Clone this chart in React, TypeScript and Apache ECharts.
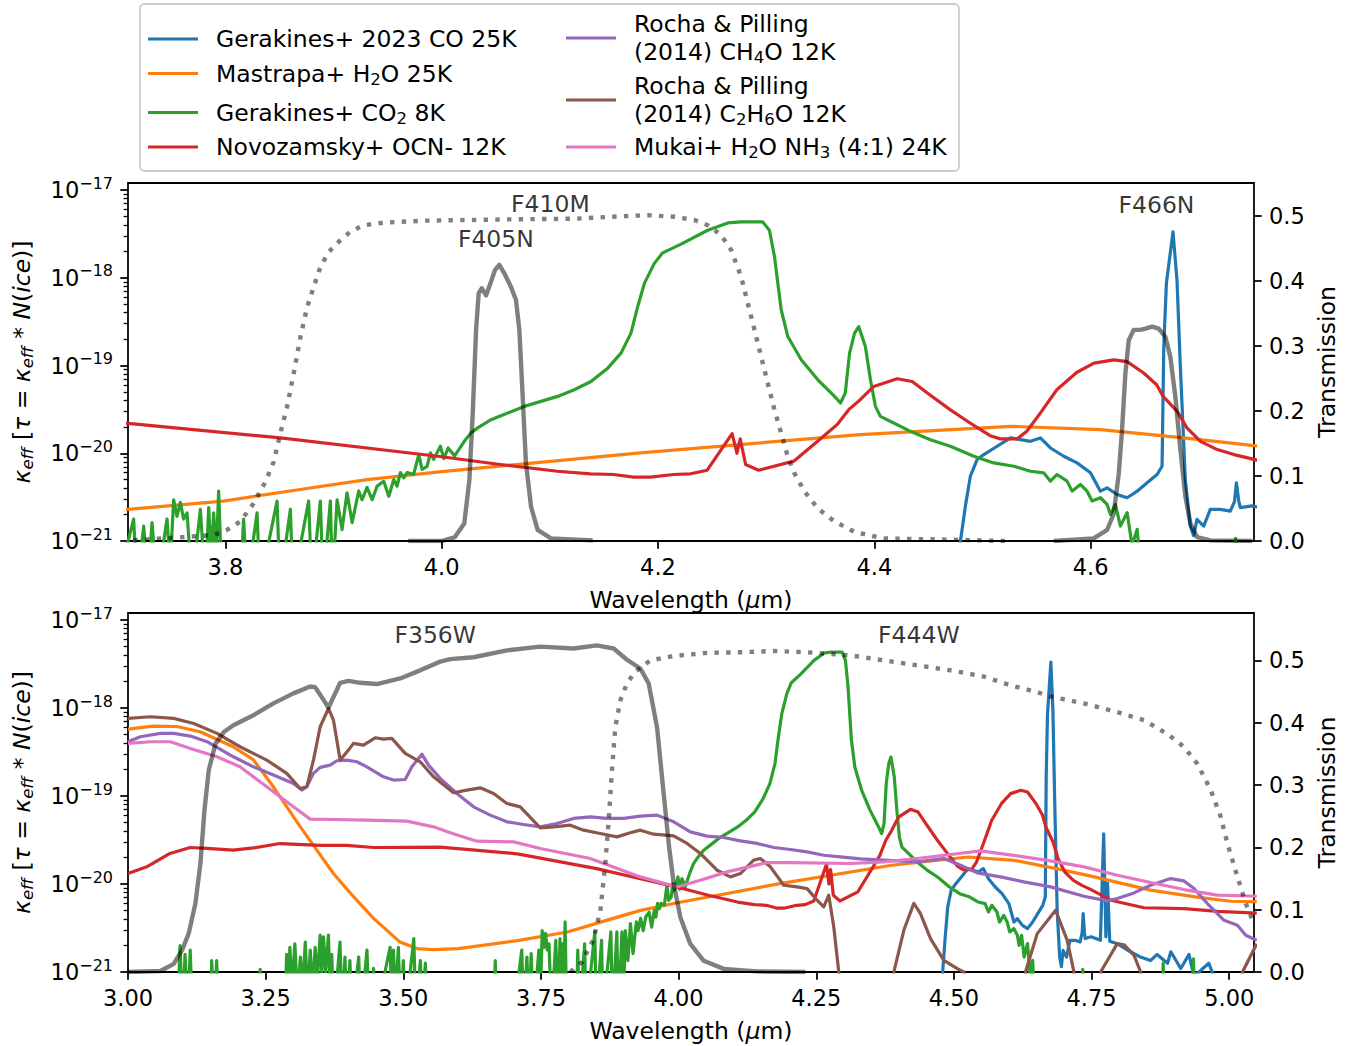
import React, { useEffect, useRef } from "react";
import * as echarts from "echarts";

const FONT = "DejaVu Sans";

// ---- Ice spectra: wavelength (µm) and log10 of kappa_eff ----
// CO, Gerakines+ 2023, 25 K
const coWave = [4.47, 4.4796, 4.4842, 4.4888, 4.495, 4.5012, 4.5135, 4.5258, 4.5351, 4.5443, 4.5535, 4.5628, 4.5751, 4.5874, 4.5998, 4.609, 4.6152, 4.6244, 4.6337, 4.643, 4.6522, 4.6614, 4.666, 4.6676, 4.67, 4.6761, 4.6798, 4.6829, 4.6875, 4.6921, 4.6952, 4.6983, 4.7045, 4.7106, 4.7199, 4.7291, 4.733, 4.7347, 4.737, 4.7384, 4.7492, 4.766, 4.772, 4.776, 4.779, 4.783, 4.797, 4.815, 4.839, 4.857, 4.869, 4.888, 4.894, 4.912, 4.927, 4.936, 4.963, 4.972, 4.98];
const coLogK = [-21.6, -21.0, -20.602, -20.26, -20.072, -20.015, -19.92, -19.825, -19.845, -19.864, -19.825, -19.94, -20.034, -20.11, -20.223, -20.432, -20.394, -20.47, -20.507, -20.432, -20.337, -20.242, -20.148, -18.784, -18.064, -17.477, -18.026, -19.01, -20.3, -20.83, -20.94, -20.754, -20.83, -20.64, -20.64, -20.66, -20.55, -20.337, -20.55, -20.62, -20.6, -20.64, -19.43, -20.6, -19.99, -20.65, -20.68, -20.75, -20.83, -20.87, -20.8, -20.9, -20.77, -20.96, -20.8, -21.05, -20.9, -21.05, -21.6];

// H2O, Mastrapa+, 25 K
const h2oWave = [3.0, 3.046, 3.0885, 3.131, 3.191, 3.228, 3.264, 3.313, 3.343, 3.373, 3.41, 3.446, 3.494, 3.525, 3.555, 3.6, 3.71, 3.798, 3.869, 3.931, 4.0, 4.1837, 4.387, 4.526, 4.609, 4.686, 4.749, 4.857, 4.948, 5.003, 5.05];
const h2oLogK = [-18.239, -18.205, -18.21, -18.27, -18.44, -18.59, -18.895, -19.35, -19.615, -19.88, -20.147, -20.39, -20.66, -20.734, -20.745, -20.735, -20.64, -20.545, -20.413, -20.3, -20.21, -19.995, -19.787, -19.693, -19.731, -19.825, -19.91, -20.07, -20.154, -20.196, -20.2];

// CO2, Gerakines+, 8 K
const co2Wave = [3.0, 3.09, 3.0945, 3.099, 3.1036, 3.108, 3.113, 3.117, 3.15, 3.152, 3.156, 3.161, 3.165, 3.238, 3.24, 3.245, 3.285, 3.288, 3.291, 3.294, 3.298, 3.303, 3.308, 3.313, 3.317, 3.322, 3.326, 3.331, 3.335, 3.34, 3.344, 3.349, 3.352, 3.355, 3.359, 3.364, 3.367, 3.37, 3.374, 3.385, 3.389, 3.394, 3.398, 3.403, 3.407, 3.419, 3.423, 3.434, 3.438, 3.446, 3.45, 3.476, 3.479, 3.482, 3.486, 3.491, 3.495, 3.5, 3.504, 3.519, 3.523, 3.531, 3.535, 3.54, 3.544, 3.664, 3.667, 3.67, 3.7, 3.7152, 3.7184, 3.7245, 3.7285, 3.7322, 3.7368, 3.7461, 3.749, 3.7522, 3.7553, 3.7584, 3.7614, 3.7646, 3.7692, 3.7769, 3.7815, 3.7846, 3.787, 3.7892, 3.7915, 3.7938, 3.7969, 3.8139, 3.8169, 3.82, 3.8293, 3.832, 3.8478, 3.8505, 3.8601, 3.8625, 3.877, 3.88, 3.8878, 3.8905, 3.8971, 3.899, 3.9033, 3.9079, 3.9125, 3.9172, 3.9233, 3.9264, 3.931, 3.9357, 3.9403, 3.9464, 3.9511, 3.9557, 3.9588, 3.9618, 3.9649, 3.968, 3.9741, 3.9788, 3.9819, 3.9865, 3.9896, 3.9926, 3.9988, 4.002, 4.006, 4.012, 4.0209, 4.0271, 4.0333, 4.0456, 4.061, 4.0764, 4.0918, 4.1072, 4.1226, 4.138, 4.1535, 4.1658, 4.175, 4.1812, 4.1874, 4.1966, 4.2043, 4.2213, 4.246, 4.2645, 4.2768, 4.2968, 4.303, 4.3077, 4.3139, 4.32, 4.3324, 4.3478, 4.3632, 4.3687, 4.3731, 4.3771, 4.3817, 4.3856, 4.3917, 4.3964, 4.401, 4.4056, 4.4179, 4.4334, 4.4518, 4.4703, 4.4919, 4.5104, 4.5289, 4.5443, 4.5566, 4.5628, 4.5689, 4.5782, 4.5828, 4.5905, 4.5967, 4.6013, 4.609, 4.6152, 4.6183, 4.6229, 4.6275, 4.6337, 4.6383, 4.643, 4.6476, 4.732, 4.734, 4.736, 4.878, 4.88, 4.883, 4.933, 4.935, 4.938, 5.05];
const co2LogK = [-21.5, -21.5, -20.7, -21.5, -20.8, -21.5, -20.75, -21.5, -21.5, -20.87, -21.5, -20.87, -21.5, -21.5, -20.97, -21.5, -21.5, -20.8, -21.3, -20.72, -21.2, -20.68, -21.3, -20.83, -21.2, -20.66, -21.3, -20.75, -21.2, -20.72, -21.1, -20.58, -21.0, -20.6, -21.0, -20.58, -21.2, -20.8, -21.5, -20.66, -21.5, -20.83, -21.5, -20.87, -21.5, -20.83, -21.5, -20.75, -21.5, -20.96, -21.5, -20.72, -21.3, -20.75, -21.3, -20.72, -21.5, -20.87, -21.5, -20.62, -21.5, -20.87, -21.5, -20.9, -21.5, -21.5, -20.87, -21.5, -21.5, -20.75, -21.5, -20.83, -21.5, -20.79, -21.5, -20.75, -21.3, -20.53, -20.72, -20.56, -20.75, -20.68, -21.5, -20.64, -21.5, -20.62, -21.2, -20.68, -21.2, -20.43, -21.5, -21.5, -20.75, -21.5, -20.68, -21.5, -20.545, -21.5, -20.64, -21.5, -20.545, -21.5, -20.545, -21.5, -20.545, -21.5, -20.53, -20.87, -20.45, -20.79, -20.43, -20.53, -20.39, -20.53, -20.375, -20.32, -20.49, -20.3, -20.375, -20.22, -20.28, -20.22, -20.24, -20.015, -20.185, -20.15, -19.995, -20.07, -19.92, -20.06, -19.94, -20.03, -19.864, -19.768, -19.711, -19.617, -19.541, -19.466, -19.409, -19.352, -19.276, -19.182, -19.03, -18.859, -18.631, -18.33, -18.064, -17.836, -17.716, -17.617, -17.458, -17.375, -17.364, -17.364, -17.458, -17.76, -18.367, -18.67, -18.935, -19.163, -19.352, -19.427, -19.314, -18.859, -18.631, -18.557, -18.784, -19.163, -19.466, -19.58, -19.655, -19.75, -19.845, -19.92, -20.034, -20.11, -20.148, -20.205, -20.223, -20.318, -20.242, -20.318, -20.432, -20.356, -20.432, -20.545, -20.507, -20.583, -20.697, -20.583, -20.83, -20.677, -21.05, -20.867, -21.5, -21.5, -20.97, -21.5, -21.5, -20.9, -21.5, -21.5, -20.85, -21.5, -21.5];

// OCN-, Novozamsky+, 12 K
const ocnWave = [3.0, 3.034, 3.0763, 3.113, 3.143, 3.191, 3.228, 3.276, 3.349, 3.397, 3.446, 3.567, 3.688, 3.71, 3.851, 4.0, 4.054, 4.107, 4.1375, 4.159, 4.1775, 4.193, 4.2145, 4.23, 4.2455, 4.2685, 4.273, 4.276, 4.281, 4.293, 4.3255, 4.353, 4.3655, 4.3763, 4.387, 4.3995, 4.421, 4.435, 4.449, 4.47, 4.4885, 4.507, 4.5166, 4.532, 4.541, 4.5536, 4.5687, 4.587, 4.603, 4.6214, 4.6337, 4.649, 4.661, 4.667, 4.68, 4.689, 4.7015, 4.717, 4.7325, 4.749, 4.785, 4.845, 4.918, 4.979, 5.05];
const ocnLogK = [-19.88, -19.805, -19.653, -19.585, -19.596, -19.615, -19.59, -19.54, -19.56, -19.56, -19.585, -19.58, -19.646, -19.66, -19.825, -20.04, -20.128, -20.205, -20.234, -20.242, -20.273, -20.273, -20.242, -20.234, -20.193, -19.776, -20.0, -19.836, -20.128, -20.193, -20.09, -19.807, -19.674, -19.503, -19.39, -19.239, -19.151, -19.182, -19.314, -19.503, -19.655, -19.8, -19.836, -19.836, -19.75, -19.54, -19.276, -19.08, -18.973, -18.935, -18.955, -19.086, -19.219, -19.352, -19.523, -19.711, -19.864, -19.958, -20.015, -20.064, -20.184, -20.27, -20.28, -20.31, -20.33];

// CH4O, Rocha & Pilling (2014), 12 K
const ch4oWave = [3.0, 3.0224, 3.0588, 3.083, 3.1133, 3.1436, 3.1914, 3.2278, 3.2641, 3.3005, 3.3156, 3.3247, 3.3368, 3.349, 3.3671, 3.3792, 3.3974, 3.4156, 3.4338, 3.464, 3.4822, 3.5034, 3.5155, 3.5337, 3.5458, 3.567, 3.5973, 3.6276, 3.6579, 3.6882, 3.7184, 3.7487, 3.779, 3.8093, 3.8396, 3.8699, 3.9002, 3.9305, 3.9608, 3.991, 4.0213, 4.0516, 4.0819, 4.1122, 4.1425, 4.1728, 4.2031, 4.2333, 4.2636, 4.2939, 4.3303, 4.3727, 4.4333, 4.4817, 4.512, 4.5423, 4.5847, 4.6271, 4.6756, 4.7362, 4.7786, 4.7967, 4.827, 4.8573, 4.8937, 4.9179, 4.9361, 4.9603, 4.9906, 5.0149, 5.03, 5.05];
const ch4oLogK = [-18.383, -18.326, -18.288, -18.288, -18.319, -18.383, -18.554, -18.668, -18.762, -18.857, -18.933, -18.895, -18.743, -18.675, -18.649, -18.599, -18.592, -18.611, -18.668, -18.782, -18.819, -18.812, -18.668, -18.524, -18.649, -18.8, -18.971, -19.123, -19.217, -19.293, -19.324, -19.35, -19.312, -19.255, -19.236, -19.255, -19.255, -19.229, -19.217, -19.293, -19.407, -19.456, -19.471, -19.509, -19.539, -19.585, -19.608, -19.635, -19.673, -19.691, -19.715, -19.729, -19.748, -19.71, -19.786, -19.873, -19.919, -19.976, -20.033, -20.139, -20.192, -20.165, -20.101, -20.014, -19.938, -19.965, -20.052, -20.222, -20.412, -20.469, -20.583, -20.64];

// C2H6O, Rocha & Pilling (2014), 12 K
const c2h6oWave = [3.0, 3.0406, 3.083, 3.1194, 3.1617, 3.2035, 3.252, 3.2883, 3.3126, 3.3247, 3.3368, 3.349, 3.3641, 3.3731, 3.3853, 3.4004, 3.4095, 3.4277, 3.4489, 3.464, 3.4792, 3.5034, 3.5307, 3.5549, 3.5912, 3.6155, 3.6397, 3.6639, 3.6882, 3.7124, 3.7487, 3.773, 3.8033, 3.8275, 3.8578, 3.8881, 3.9123, 3.9305, 3.9547, 3.991, 4.0153, 4.0395, 4.0698, 4.094, 4.1122, 4.1364, 4.1485, 4.1667, 4.191, 4.2152, 4.2333, 4.2515, 4.2636, 4.2727, 4.2818, 4.2909, 4.3, 4.385, 4.3909, 4.409, 4.4272, 4.4393, 4.4575, 4.4817, 4.506, 4.518, 4.53, 4.625, 4.63, 4.6513, 4.6847, 4.7058, 4.718, 4.725, 4.76, 4.7664, 4.7967, 4.8088, 4.827, 4.8391, 4.845, 5.018, 5.024, 5.05];
const c2h6oLogK = [-18.118, -18.099, -18.118, -18.175, -18.288, -18.44, -18.592, -18.743, -18.914, -18.895, -18.592, -18.213, -18.004, -18.137, -18.592, -18.478, -18.402, -18.421, -18.338, -18.353, -18.345, -18.516, -18.611, -18.782, -18.963, -18.933, -18.907, -18.971, -19.085, -19.123, -19.362, -19.35, -19.331, -19.388, -19.426, -19.464, -19.418, -19.388, -19.434, -19.453, -19.539, -19.653, -19.843, -19.919, -19.881, -19.729, -19.71, -19.805, -20.014, -20.033, -20.052, -20.184, -20.26, -20.127, -20.488, -21.0, -21.6, -21.6, -21.0, -20.526, -20.22, -20.336, -20.621, -20.867, -20.962, -21.0, -21.6, -21.6, -21.0, -20.564, -20.298, -20.64, -21.0, -21.6, -21.6, -21.0, -20.677, -20.69, -20.81, -21.0, -21.6, -21.6, -21.0, -20.68];

// H2O:NH3 (4:1), Mukai+, 24 K
const h2onh3Wave = [3.0, 3.0406, 3.077, 3.1133, 3.1617, 3.2035, 3.252, 3.3005, 3.3308, 3.3731, 3.4338, 3.5064, 3.5549, 3.5852, 3.6336, 3.7003, 3.7487, 3.8396, 3.9305, 3.997, 4.0395, 4.088, 4.1607, 4.2031, 4.3121, 4.3727, 4.4333, 4.4939, 4.5484, 4.615, 4.6756, 4.7362, 4.7967, 4.8573, 4.9179, 4.9785, 5.05];
const h2onh3LogK = [-18.402, -18.383, -18.383, -18.459, -18.554, -18.668, -18.895, -19.123, -19.263, -19.267, -19.274, -19.286, -19.35, -19.418, -19.513, -19.521, -19.597, -19.71, -19.919, -20.033, -19.957, -19.862, -19.756, -19.756, -19.767, -19.748, -19.71, -19.665, -19.623, -19.68, -19.737, -19.805, -19.9, -19.983, -20.063, -20.127, -20.139];

// ---- NIRCam filter transmission curves ----
const f410mWave = [3.715, 3.7892, 3.8015, 3.8139, 3.8262, 3.837, 3.8447, 3.8509, 3.8571, 3.8632, 3.8694, 3.8756, 3.8817, 3.8879, 3.8956, 3.9064, 3.9156, 3.928, 3.9464, 3.9834, 4.061, 4.1226, 4.1689, 4.1905, 4.2151, 4.2336, 4.246, 4.2583, 4.2676, 4.2768, 4.283, 4.2892, 4.2953, 4.3015, 4.3077, 4.3139, 4.32, 4.3262, 4.3355, 4.3478, 4.3632, 4.3817, 4.4087, 4.4703, 4.5227];
const f410mTrans = [0.001, 0.009, 0.017, 0.03, 0.058, 0.091, 0.122, 0.166, 0.207, 0.258, 0.314, 0.36, 0.391, 0.422, 0.445, 0.463, 0.476, 0.486, 0.49, 0.493, 0.495, 0.496, 0.5, 0.5015, 0.499, 0.494, 0.486, 0.471, 0.448, 0.407, 0.366, 0.325, 0.284, 0.243, 0.2015, 0.166, 0.13, 0.104, 0.076, 0.05, 0.03, 0.014, 0.004, 0.002, 0.0];

const f405nWave = [3.969, 4.0, 4.0122, 4.0209, 4.0256, 4.0287, 4.0318, 4.0342, 4.037, 4.041, 4.0456, 4.0493, 4.0533, 4.0579, 4.0641, 4.0687, 4.0718, 4.0749, 4.0779, 4.0826, 4.0887, 4.101, 4.1396];
const f405nTrans = [0.0, 0.0, 0.006, 0.027, 0.094, 0.196, 0.325, 0.381, 0.389, 0.378, 0.399, 0.417, 0.425, 0.412, 0.391, 0.371, 0.325, 0.222, 0.12, 0.053, 0.017, 0.004, 0.001];

const f466nWave = [4.5659, 4.6028, 4.6152, 4.6213, 4.626, 4.629, 4.6321, 4.6352, 4.6398, 4.646, 4.6506, 4.6568, 4.6629, 4.6691, 4.6737, 4.6783, 4.683, 4.6876, 4.6922, 4.6984, 4.7107, 4.7492];
const f466nTrans = [0.0, 0.004, 0.017, 0.042, 0.104, 0.171, 0.258, 0.309, 0.325, 0.325, 0.327, 0.33, 0.327, 0.314, 0.283, 0.222, 0.14, 0.068, 0.027, 0.006, 0.001, 0.0];

const f356wWave = [3.0, 3.0588, 3.083, 3.0982, 3.1103, 3.1224, 3.1315, 3.1388, 3.1467, 3.1588, 3.174, 3.1914, 3.2278, 3.2641, 3.3005, 3.3308, 3.3399, 3.352, 3.3641, 3.3731, 3.3853, 3.4004, 3.4216, 3.4519, 3.4943, 3.5307, 3.567, 3.5852, 3.6276, 3.6882, 3.7487, 3.8093, 3.8517, 3.882, 3.9062, 3.9305, 3.9456, 3.9608, 3.9729, 3.982, 3.991, 4.0031, 4.0213, 4.0456, 4.0819, 4.1425, 4.2303];
const f356wTrans = [0.0, 0.0017, 0.013, 0.035, 0.062, 0.11, 0.174, 0.259, 0.324, 0.366, 0.385, 0.396, 0.412, 0.431, 0.447, 0.458, 0.457, 0.441, 0.424, 0.441, 0.464, 0.467, 0.464, 0.462, 0.471, 0.484, 0.498, 0.502, 0.505, 0.516, 0.522, 0.519, 0.524, 0.519, 0.501, 0.487, 0.463, 0.393, 0.286, 0.206, 0.142, 0.088, 0.045, 0.018, 0.005, 0.001, 0.0];

const f444wWave = [3.8033, 3.8245, 3.8457, 3.8578, 3.8669, 3.873, 3.879, 3.8851, 3.8942, 3.9062, 3.9214, 3.9486, 3.991, 4.0516, 4.1122, 4.1728, 4.2333, 4.3121, 4.3727, 4.4333, 4.4939, 4.5544, 4.6029, 4.6513, 4.6756, 4.7362, 4.7967, 4.8452, 4.8876, 4.9179, 4.9421, 4.9664, 4.9846, 4.9967, 5.0149, 5.03, 5.042];
const f444wTrans = [0.0, 0.016, 0.053, 0.098, 0.174, 0.243, 0.324, 0.393, 0.436, 0.463, 0.482, 0.5, 0.507, 0.512, 0.513, 0.515, 0.513, 0.508, 0.5, 0.492, 0.484, 0.474, 0.46, 0.449, 0.442, 0.431, 0.417, 0.404, 0.382, 0.361, 0.334, 0.292, 0.249, 0.206, 0.153, 0.11, 0.084];

// Filter name annotations, anchored in (wavelength, transmission)
const filterNotes = [
  { name: "F410M", wave: 4.1005, trans: 0.518, panel: 0 },
  { name: "F405N", wave: 4.0501, trans: 0.4643, panel: 0 },
  { name: "F466N", wave: 4.6608, trans: 0.5174, panel: 0 },
  { name: "F356W", wave: 3.558, trans: 0.5404, panel: 1 },
  { name: "F444W", wave: 4.4363, trans: 0.541, panel: 1 },
];

// Axis ticks
const logMajor = [-21, -20, -19, -18, -17];
const transTicks = [0, 0.1, 0.2, 0.3, 0.4, 0.5];
const topWaveTicks = [3.8, 4.0, 4.2, 4.4, 4.6];
const bottomWaveTicks = [3.0, 3.25, 3.5, 3.75, 4.0, 4.25, 4.5, 4.75, 5.0];

const pairs = (xs: number[], ys: number[]) => xs.map((x, i) => [x, ys[i]]);

const FS = 23.5; // titles, legend, annotations
const TICK_FS = 22.5; // tick labels

const TXT = { fontFamily: FONT, fontSize: FS, lineHeight: 28, verticalAlign: "middle", color: "#000", fill: "#000" };
const SUB = { fontFamily: FONT, fontSize: 16.5, lineHeight: 14, verticalAlign: "bottom", color: "#000", fill: "#000" };
const RICH: any = {
  t: TXT,
  i: { ...TXT, fontStyle: "italic" },
  sub: SUB,
  isub: { ...SUB, fontStyle: "italic" },
};

const species = [
  { name: "Gerakines+ 2023 CO 25K", label: "{t|Gerakines+ 2023 CO 25K}", color: "#1f77b4", wave: coWave, logK: coLogK, top: true },
  { name: "Mastrapa+ H2O 25K", label: "{t|Mastrapa+ H}{sub|2}{t|O 25K}", color: "#ff7f0e", wave: h2oWave, logK: h2oLogK, top: true },
  { name: "Gerakines+ CO2 8K", label: "{t|Gerakines+ CO}{sub|2}{t| 8K}", color: "#2ca02c", wave: co2Wave, logK: co2LogK, top: true },
  { name: "Novozamsky+ OCN- 12K", label: "{t|Novozamsky+ OCN- 12K}", color: "#d62728", wave: ocnWave, logK: ocnLogK, top: true },
  { name: "Rocha & Pilling (2014) CH4O 12K", label: "{t|Rocha & Pilling}\n{t|(2014) CH}{sub|4}{t|O 12K}", color: "#9467bd", wave: ch4oWave, logK: ch4oLogK, top: false },
  { name: "Rocha & Pilling (2014) C2H6O 12K", label: "{t|Rocha & Pilling}\n{t|(2014) C}{sub|2}{t|H}{sub|6}{t|O 12K}", color: "#8c564b", wave: c2h6oWave, logK: c2h6oLogK, top: false },
  { name: "Mukai+ H2O NH3 (4:1) 24K", label: "{t|Mukai+ H}{sub|2}{t|O NH}{sub|3}{t| (4:1) 24K}", color: "#e377c2", wave: h2onh3Wave, logK: h2onh3LogK, top: false },
];

const filters = [
  { name: "F410M", wave: f410mWave, trans: f410mTrans, dotted: true, panel: 0 },
  { name: "F405N", wave: f405nWave, trans: f405nTrans, dotted: false, panel: 0 },
  { name: "F466N", wave: f466nWave, trans: f466nTrans, dotted: false, panel: 0 },
  { name: "F356W", wave: f356wWave, trans: f356wTrans, dotted: false, panel: 1 },
  { name: "F444W", wave: f444wWave, trans: f444wTrans, dotted: true, panel: 1 },
];

const KAPPA_TOP = -16.92;
const TICK = { color: "#000", width: 1.76 };

function logMinorTicks(): number[] {
  const out: number[] = [];
  for (let n = -21; n < -17; n++) {
    for (let k = 2; k <= 9; k++) out.push(n + Math.log10(k));
  }
  return out;
}

function kappaAxes(grid: number) {
  return [
    {
      type: "value",
      gridIndex: grid,
      position: "left",
      min: -21,
      max: KAPPA_TOP,
      axisLine: { show: false },
      splitLine: { show: false },
      axisTick: { show: true, customValues: logMajor, length: 7.7, lineStyle: TICK },
      axisLabel: {
        customValues: logMajor,
        margin: 15,
        formatter: (v: number) => `{b|10}{s|\u2212${Math.round(-v)}}`,
        rich: {
          b: { fontFamily: FONT, fontSize: TICK_FS, lineHeight: 30, verticalAlign: "middle", color: "#000" },
          s: { fontFamily: FONT, fontSize: 16, lineHeight: 16, verticalAlign: "top", color: "#000" },
        },
      },
      name: "{i|\u03ba}{isub|eff}{t| [}{i|\u03c4}{t| = }{i|\u03ba}{isub|eff}{t| * }{i|N}{t|(}{i|ice}{t|)]}",
      nameLocation: "middle",
      nameRotate: 90,
      nameGap: 92,
      nameMoveOverlap: false,
      nameTextStyle: { fontFamily: FONT, fontSize: FS, color: "#000", rich: RICH },
    },
    {
      type: "value",
      gridIndex: grid,
      position: "left",
      min: -21,
      max: KAPPA_TOP,
      axisLine: { show: false },
      splitLine: { show: false },
      axisLabel: { show: false },
      axisTick: { show: true, customValues: logMinorTicks(), length: 4.4, lineStyle: { color: "#000", width: 1.3 } },
    },
    {
      type: "value",
      gridIndex: grid,
      position: "right",
      min: 0,
      max: grid === 0 ? 0.551 : 0.576,
      axisLine: { show: false },
      splitLine: { show: false },
      axisTick: { show: true, customValues: transTicks, length: 7.7, lineStyle: TICK },
      axisLabel: {
        customValues: transTicks,
        margin: 15,
        formatter: (v: number) => v.toFixed(1),
        fontFamily: FONT,
        fontSize: TICK_FS,
        color: "#000",
      },
      name: "Transmission",
      nameLocation: "middle",
      nameRotate: 90,
      nameGap: 61,
      nameMoveOverlap: false,
      nameTextStyle: { fontFamily: FONT, fontSize: FS, color: "#000" },
    },
  ];
}

function waveAxis(grid: number, min: number, max: number, ticks: number[], digits: number) {
  return {
    type: "value",
    gridIndex: grid,
    min,
    max,
    axisLine: { show: false },
    splitLine: { show: false },
    axisTick: { show: true, customValues: ticks, length: 7.7, lineStyle: TICK },
    axisLabel: {
      customValues: ticks,
      margin: 14,
      formatter: (v: number) => v.toFixed(digits),
      fontFamily: FONT,
      fontSize: TICK_FS,
      color: "#000",
    },
    name: "{t|Wavelength (}{i|\u03bc}{t|m)}",
    nameLocation: "middle",
    nameGap: 45,
    nameMoveOverlap: false,
    nameTextStyle: { fontFamily: FONT, fontSize: FS, color: "#000", rich: RICH },
  };
}

function buildOption() {
  const series: any[] = [];
  [0, 1].forEach((panel) => {
    const kappaAxis = panel * 3;
    const transAxis = panel * 3 + 2;
    species.forEach((s) => {
      if (panel === 0 && !s.top) return;
      series.push({
        type: "line",
        name: s.name,
        xAxisIndex: panel,
        yAxisIndex: kappaAxis,
        data: pairs(s.wave, s.logK),
        symbol: "none",
        showSymbol: false,
        clip: true,
        silent: true,
        lineStyle: { color: s.color, width: 3.2, join: "round" },
        itemStyle: { color: s.color },
        z: 2,
      });
    });
    filters.forEach((f) => {
      if (f.panel !== panel) return;
      series.push({
        type: "line",
        name: f.name,
        xAxisIndex: panel,
        yAxisIndex: transAxis,
        data: pairs(f.wave, f.trans),
        symbol: "none",
        showSymbol: false,
        clip: true,
        silent: true,
        lineStyle: {
          color: "rgba(0,0,0,0.5)",
          width: 4.4,
          type: f.dotted ? [4.4, 7.3] : "solid",
          cap: "butt",
          join: "round",
        },
        itemStyle: { color: "rgba(0,0,0,0.5)" },
        z: 3,
      });
    });
    series.push({
      type: "scatter",
      name: "filter names " + panel,
      xAxisIndex: panel,
      yAxisIndex: transAxis,
      symbolSize: 1,
      silent: true,
      itemStyle: { color: "rgba(0,0,0,0)" },
      label: { show: true, position: "inside", formatter: "{b}", fontFamily: FONT, fontSize: FS, color: "#000" },
      data: filterNotes.filter((n) => n.panel === panel).map((n) => ({ name: n.name, value: [n.wave, n.trans] })),
      z: 4,
    });
  });

  // Legend drawn as graphic elements (two columns, rich text for subscripts)
  const col1Y = [39, 73.5, 112.5, 147];
  const col2Y = [38, 100, 147];
  const graphics: any[] = [
    {
      type: "rect",
      shape: { x: 140, y: 4, width: 819, height: 167, r: 4.4 },
      style: { fill: "rgba(255,255,255,0.8)", stroke: "#cccccc", lineWidth: 1.76 },
      z: 10,
    },
  ];
  species.forEach((s, idx) => {
    const inFirst = idx < 4;
    const y = inFirst ? col1Y[idx] : col2Y[idx - 4];
    const x0 = inFirst ? 148 : 566;
    graphics.push({
      type: "line",
      shape: { x1: x0, y1: y, x2: x0 + 50, y2: y },
      style: { stroke: s.color, lineWidth: 3.2 },
      z: 11,
    });
    graphics.push({
      type: "text",
      x: x0 + 68,
      y,
      style: {
        text: s.label,
        rich: RICH,
        fontFamily: FONT,
        fontSize: FS,
        lineHeight: 28,
        fill: "#000",
        align: "left",
        verticalAlign: "middle",
      },
      z: 11,
    });
  });

  return {
    animation: false,
    backgroundColor: "#ffffff",
    textStyle: { fontFamily: FONT },
    grid: [
      { left: 128, top: 183, width: 1126, height: 358, show: true, borderColor: "#000", borderWidth: 1.76, backgroundColor: "transparent", containLabel: false, outerBoundsMode: "none" },
      { left: 128, top: 613, width: 1126, height: 359, show: true, borderColor: "#000", borderWidth: 1.76, backgroundColor: "transparent", containLabel: false, outerBoundsMode: "none" },
    ],
    xAxis: [waveAxis(0, 3.71, 4.751, topWaveTicks, 1), waveAxis(1, 3.0, 5.045, bottomWaveTicks, 2)],
    yAxis: [...kappaAxes(0), ...kappaAxes(1)],
    series,
    graphic: graphics,
  };
}

export default function App() {
  const ref = useRef<HTMLDivElement>(null);
  useEffect(() => {
    if (!ref.current) return;
    const chart = echarts.init(ref.current, undefined, { renderer: "svg" });
    chart.setOption(buildOption() as any);
    return () => chart.dispose();
  }, []);
  return (
    <div
      ref={ref}
      style={{ position: "fixed", left: 0, top: 0, width: 1349, height: 1046, background: "#fff" }}
    />
  );
}
